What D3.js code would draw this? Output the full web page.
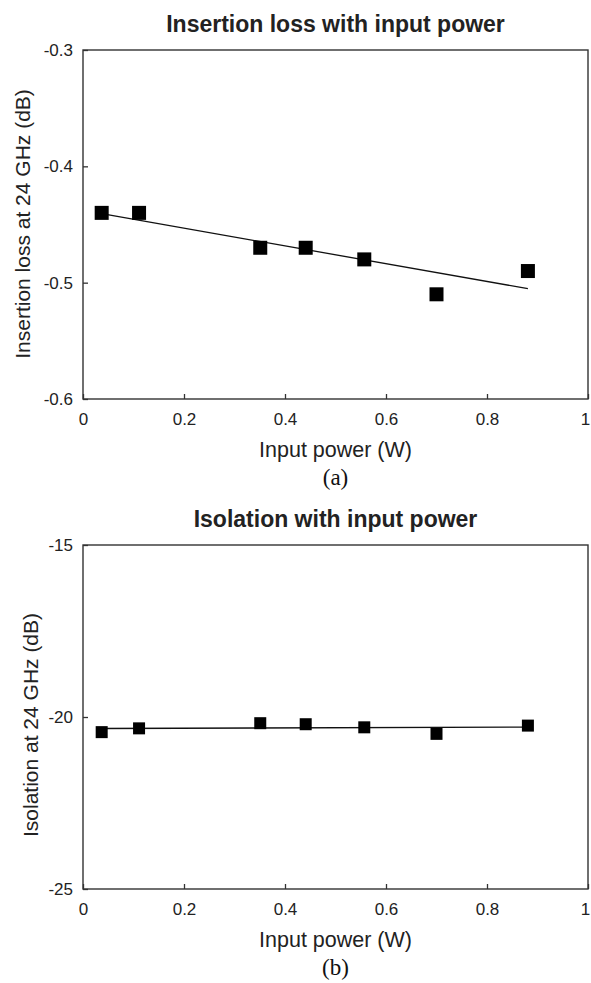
<!DOCTYPE html>
<html>
<head>
<meta charset="utf-8">
<script src="https://cdn.jsdelivr.net/npm/d3@7"></script>
<style>
  body { margin: 0; background: #fff; }
  svg { display: block; font-family: Arial, "Liberation Sans", sans-serif; }
</style>
</head>
<body>
<svg id="figure" width="591" height="983"></svg>
<script>
// input power sweep, W (same points in both panels)
const inputPower = [0.037, 0.111, 0.351, 0.441, 0.557, 0.700, 0.881];
// insertion loss at 24 GHz, dB
const insertionLoss = [-0.44, -0.44, -0.47, -0.47, -0.48, -0.51, -0.49];
// isolation at 24 GHz, dB
const isolation = [-20.44, -20.33, -20.18, -20.21, -20.30, -20.49, -20.25];

// tick values
const xTicks = [0, 0.2, 0.4, 0.6, 0.8, 1];
const lossTicks = [-0.6, -0.5, -0.4, -0.3];
const isoTicks = [-25, -20, -15];

const svg = d3.select("#figure");
const plotLeft = 83, plotWidth = 505;
const ink = "#222";

const panels = [
    {
        title: "Insertion loss with input power",
        yLabel: "Insertion loss at 24 GHz (dB)",
        caption: "(a)",
        values: insertionLoss,
        yTicks: lossTicks,
        top: 50, height: 349,
        titleY: 32, yLabelX: 30, yLabelY: 224,
        marker: 14
    },
    {
        title: "Isolation with input power",
        yLabel: "Isolation at 24 GHz (dB)",
        caption: "(b)",
        values: isolation,
        yTicks: isoTicks,
        top: 545, height: 344,
        titleY: 527, yLabelX: 38, yLabelY: 725,
        marker: 12
    }
];

// least squares line, like the spreadsheet trendline
function linearFit(xs, ys) {
    const mx = d3.mean(xs), my = d3.mean(ys);
    let sxy = 0, sxx = 0;
    xs.forEach((x, i) => {
        sxy += (x - mx) * (ys[i] - my);
        sxx += (x - mx) * (x - mx);
    });
    const slope = sxy / sxx;
    return x => my + slope * (x - mx);
}

function drawPanel(p) {
    const g = svg.append("g")
        .attr("transform", `translate(${plotLeft},${p.top})`);

    const x = d3.scaleLinear().domain([0, 1]).range([0, plotWidth]);
    const y = d3.scaleLinear().domain(d3.extent(p.yTicks)).range([p.height, 0]);

    // axes with inward ticks
    const xAxis = g.append("g")
        .attr("transform", `translate(0,${p.height})`)
        .call(d3.axisBottom(x).tickValues(xTicks).tickFormat(d => String(d))
            .tickSize(-5).tickPadding(14));
    const yAxis = g.append("g")
        .call(d3.axisLeft(y).tickValues(p.yTicks).tickFormat(d => String(d))
            .tickSize(-5).tickPadding(10));

    [xAxis, yAxis].forEach(a => {
        a.select(".domain").remove();
        a.selectAll("line").attr("stroke", "#333").attr("stroke-width", 1.3);
        a.selectAll("text").attr("fill", ink)
            .style("font-size", "17px")
            .style("font-family", "Arial, 'Liberation Sans', sans-serif");
    });
    // last label sits on the page edge, nudge it in
    xAxis.selectAll(".tick text").filter(d => d === 1).attr("dx", "-3");

    // plot frame
    g.append("rect")
        .attr("width", plotWidth).attr("height", p.height)
        .attr("fill", "none").attr("stroke", "#333").attr("stroke-width", 1.4);

    // trendline over the measured range
    const fit = linearFit(inputPower, p.values);
    const ends = d3.extent(inputPower);
    g.append("path")
        .datum(ends)
        .attr("fill", "none")
        .attr("stroke", "#111")
        .attr("stroke-width", 1.3)
        .attr("d", d3.line().x(d => x(d)).y(d => y(fit(d))));

    // square markers
    const pts = inputPower.map((v, i) => ({x: v, y: p.values[i]}));
    g.selectAll("rect.pt")
        .data(pts)
        .enter()
        .append("rect")
        .attr("class", "pt")
        .attr("x", d => x(d.x) - p.marker / 2)
        .attr("y", d => y(d.y) - p.marker / 2)
        .attr("width", p.marker)
        .attr("height", p.marker)
        .attr("fill", "#000");

    const cx = plotLeft + plotWidth / 2;
    const bottom = p.top + p.height;

    svg.append("text")
        .attr("x", cx).attr("y", p.titleY)
        .attr("text-anchor", "middle")
        .attr("fill", ink)
        .style("font-size", "23px").style("font-weight", "bold")
        .text(p.title);

    svg.append("text")
        .attr("transform", `translate(${p.yLabelX},${p.yLabelY}) rotate(-90)`)
        .attr("text-anchor", "middle")
        .attr("fill", ink)
        .style("font-size", "21px")
        .text(p.yLabel);

    svg.append("text")
        .attr("x", cx).attr("y", bottom + 58)
        .attr("text-anchor", "middle")
        .attr("fill", ink)
        .style("font-size", "21.5px")
        .text("Input power (W)");

    svg.append("text")
        .attr("x", cx).attr("y", bottom + 86)
        .attr("text-anchor", "middle")
        .attr("fill", "#111")
        .style("font-size", "23px")
        .style("font-family", "'Liberation Serif', 'Times New Roman', serif")
        .text(p.caption);
}

panels.forEach(drawPanel);
</script>
</body>
</html>
